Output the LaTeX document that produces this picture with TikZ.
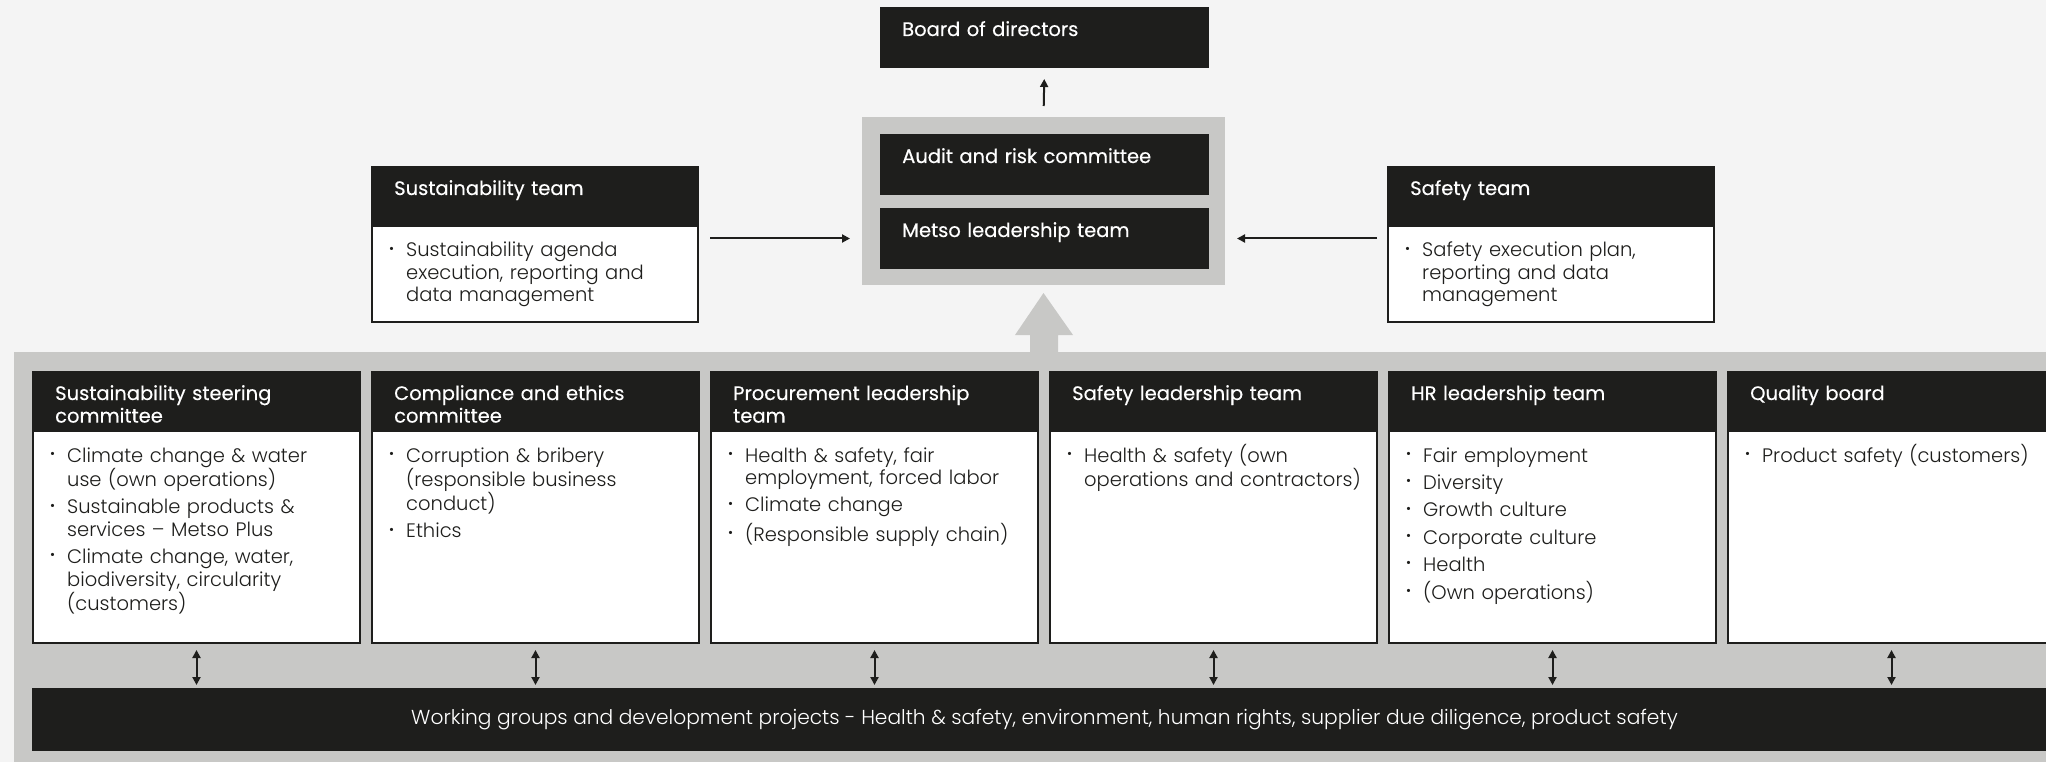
\documentclass[tikz,border=0pt]{standalone}
\usepackage{fontspec}
\usepackage{graphicx}
\setmainfont{Poppins}[UprightFont={* Light}]
\newfontfamily\hdrfont[FakeBold=0.3]{Poppins}
\usetikzlibrary{arrows.meta,calc}
\definecolor{pagebg}{HTML}{F4F4F4}
\definecolor{band}{HTML}{C8C8C6}
\definecolor{ink}{HTML}{1E1E1C}
% bullet item with hanging indent
\newcommand{\itm}[1]{\hangindent=17pt\hangafter=1\noindent\makebox[17pt][l]{\raisebox{0.35ex}{\scalebox{0.7}{\textbullet}}}#1\par}
\tikzset{
  hdr/.style={fill=ink, draw=ink, line width=1.2, anchor=north west, inner sep=0, outer sep=0},
  bodybox/.style={fill=white, draw=ink, line width=2.4, anchor=north west, inner sep=0, outer sep=0},
  hdrtxt/.style={anchor=base west, inner sep=0, text=white, text width=300, align=left,
    font=\hdrfont\fontsize{19.5}{22.6}\selectfont},
  bodytxt/.style={anchor=base west, inner sep=0, text=ink, text width=305, align=left,
    font=\fontsize{19.5}{22.4}\selectfont, execute at begin node={\setlength{\parskip}{5pt}}},
  conn/.style={draw=ink, line width=2, -{Triangle[length=8,width=8]}},
  dconn/.style={draw=ink, line width=2, {Triangle[length=8,width=8]}-{Triangle[length=8,width=8]}},
}
\begin{document}
\begin{tikzpicture}[x=1pt,y=-1pt]
\useasboundingbox (0,0) rectangle (2046,762);
\fill[pagebg] (0,0) rectangle (2046,762);
% lower band with the upward arrow
\fill[band] (14,352) rectangle (2046,762);
\node[fill=band, anchor=north west, inner sep=0, outer sep=0, minimum width=363, minimum height=168] (grp) at (862,117) {};
\fill[band] (1030,360) -- (1030,335) -- (1015,335) -- ($(grp.south)+(0,8)$) -- (1073,335) -- (1058,335) -- (1058,360) -- cycle;

% top boxes
\node[hdr, minimum width=327, minimum height=59] (board) at (881,8) {};
\node[hdrtxt] (boardt) at ($(board.north west)+(21,28)$) {Board of directors};
\node[hdr, minimum width=327, minimum height=59] (arc) at (881,135) {};
\node[hdrtxt] (arct) at ($(arc.north west)+(21,28)$) {Audit and risk committee};
\node[hdr, minimum width=327, minimum height=59] (mlt) at (881,209) {};
\node[hdrtxt] (mltt) at ($(mlt.north west)+(21,28)$) {Metso leadership team};

% side teams
\node[hdr, minimum width=326, minimum height=59] (st) at (372,167) {};
\node[bodybox, minimum width=326, minimum height=96] (stb) at (st.south west) {};
\node[hdrtxt] (stt) at ($(st.north west)+(22,28)$) {Sustainability team};
\node[bodytxt] (stbt) at ($(stb.north west)+(17,31)$) {\itm{Sustainability agenda\newline execution, reporting and\newline data management}};

\node[hdr, minimum width=326, minimum height=59] (sft) at (1388,167) {};
\node[bodybox, minimum width=326, minimum height=96] (sftb) at (sft.south west) {};
\node[hdrtxt] (sftt) at ($(sft.north west)+(22,28)$) {Safety team};
\node[bodytxt] (sftbt) at ($(sftb.north west)+(17,31)$) {\itm{Safety execution plan,\newline reporting and data\newline management}};

% row of committees
\node[hdr, minimum width=327, minimum height=59] (h1) at (33,372) {};
\node[bodybox, minimum width=327, minimum height=212] (b1) at (h1.south west) {};
\node[hdrtxt] (h1t) at ($(h1.north west)+(22,28)$) {Sustainability steering\\committee};
\node[bodytxt] (b1t) at ($(b1.north west)+(17,31)$) {\itm{Climate change \& water\newline use (own operations)}\itm{Sustainable products \&\newline services -- Metso Plus}\itm{Climate change, water,\newline biodiversity, circularity\newline (customers)}};

\node[hdr, minimum width=327, minimum height=59] (h2) at (372,372) {};
\node[bodybox, minimum width=327, minimum height=212] (b2) at (h2.south west) {};
\node[hdrtxt] (h2t) at ($(h2.north west)+(22,28)$) {Compliance and ethics\\committee};
\node[bodytxt] (b2t) at ($(b2.north west)+(17,31)$) {\itm{Corruption \& bribery\newline (responsible business\newline conduct)}\itm{Ethics}};

\node[hdr, minimum width=327, minimum height=59] (h3) at (711,372) {};
\node[bodybox, minimum width=327, minimum height=212] (b3) at (h3.south west) {};
\node[hdrtxt] (h3t) at ($(h3.north west)+(22,28)$) {Procurement leadership\\team};
\node[bodytxt] (b3t) at ($(b3.north west)+(17,31)$) {\itm{Health \& safety, fair\newline employment, forced labor}\itm{Climate change}\itm{(Responsible supply chain)}};

\node[hdr, minimum width=327, minimum height=59] (h4) at (1050,372) {};
\node[bodybox, minimum width=327, minimum height=212] (b4) at (h4.south west) {};
\node[hdrtxt] (h4t) at ($(h4.north west)+(22,28)$) {Safety leadership team};
\node[bodytxt] (b4t) at ($(b4.north west)+(17,31)$) {\itm{Health \& safety (own\newline operations and contractors)}};

\node[hdr, minimum width=327, minimum height=59] (h5) at (1389,372) {};
\node[bodybox, minimum width=327, minimum height=212] (b5) at (h5.south west) {};
\node[hdrtxt] (h5t) at ($(h5.north west)+(22,28)$) {HR leadership team};
\node[bodytxt] (b5t) at ($(b5.north west)+(17,31)$) {\itm{Fair employment}\itm{Diversity}\itm{Growth culture}\itm{Corporate culture}\itm{Health}\itm{(Own operations)}};

\node[hdr, minimum width=327, minimum height=59] (h6) at (1728,372) {};
\node[bodybox, minimum width=327, minimum height=212] (b6) at (h6.south west) {};
\node[hdrtxt] (h6t) at ($(h6.north west)+(22,28)$) {Quality board};
\node[bodytxt] (b6t) at ($(b6.north west)+(17,31)$) {\itm{Product safety (customers)}};

% working groups bar
\node[hdr, minimum width=2023, minimum height=61, anchor=north west, text=white,
  font=\fontsize{20.2}{22.4}\selectfont] (bar) at (33,689) {Working groups and development projects - Health \& safety, environment, human rights, supplier due diligence, product safety};

% connectors
\draw[conn, shorten <=11, shorten >=12] (grp.north) -- (board.south);
\draw[conn, shorten <=12, shorten >=12] (stb.east |- mlt.center) -- (grp.west |- mlt.center);
\draw[conn, shorten <=11, shorten >=12] (sftb.west |- mlt.center) -- (grp.east |- mlt.center);
\foreach \k in {1,...,6}{
  \draw[dconn, shorten <=7, shorten >=4] (b\k.south) -- (b\k.south |- bar.north);
}
\end{tikzpicture}
\end{document}
